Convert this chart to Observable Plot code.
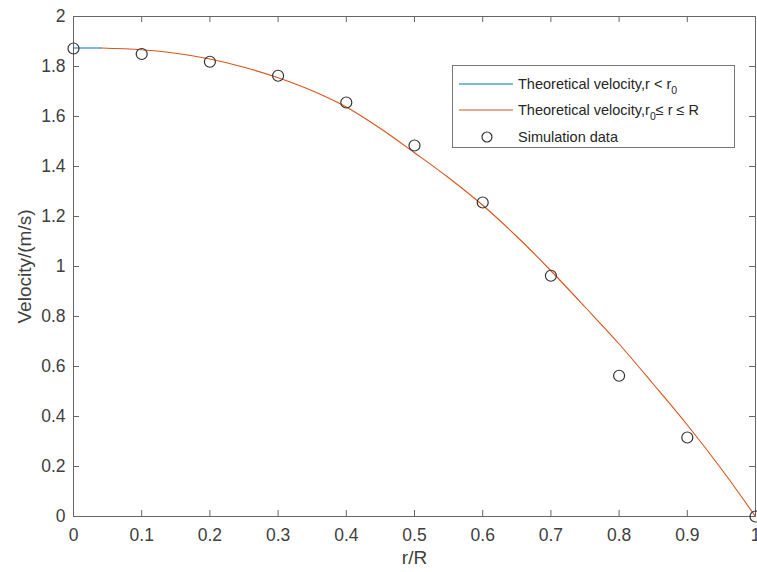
<!DOCTYPE html>
<html><head><meta charset="utf-8">
<script src="https://cdn.jsdelivr.net/npm/d3@7"></script>
<script src="https://cdn.jsdelivr.net/npm/@observablehq/plot@0.6"></script>
<style>
body{margin:0;background:#fff;font-family:"Liberation Sans",Arial,sans-serif;}
#wrap{position:relative;width:757px;height:572px;}
#legend{position:absolute;left:452px;top:65px;width:281px;height:81px;border:1px solid #777;background:#fff;font-size:14.5px;color:#262626;}
.row{position:absolute;left:0;width:281px;height:20px;}
.sw{position:absolute;left:0;top:0;}
.lab{position:absolute;left:65px;top:1px;white-space:nowrap;line-height:18px;}
.lab sub{font-size:10.5px;vertical-align:-5px;line-height:0;}
</style></head>
<body><div id="wrap"></div>
<script>
// Simulation data
const simX = [0, 0.1, 0.2, 0.3, 0.4, 0.5, 0.6, 0.7, 0.8, 0.9, 1.0];
const simV = [1.872, 1.850, 1.819, 1.763, 1.656, 1.484, 1.256, 0.963, 0.563, 0.316, 0];
// Theoretical velocity, plug region r < r0
const plugX = [0, 0.04];
const plugV = [1.874, 1.874];
// Theoretical velocity, r0 <= r <= R
const curveX = [0.04, 0.1, 0.15, 0.2, 0.25, 0.3, 0.35, 0.4, 0.45, 0.5, 0.55, 0.6, 0.65, 0.7, 0.75, 0.8, 0.85, 0.9, 0.95, 1.0];
const curveV = [1.874, 1.867, 1.853, 1.830, 1.797, 1.755, 1.703, 1.638, 1.552, 1.455, 1.355, 1.245, 1.120, 0.983, 0.838, 0.690, 0.530, 0.366, 0.190, 0.000];
// Ticks
const xTicks = [0, 0.1, 0.2, 0.3, 0.4, 0.5, 0.6, 0.7, 0.8, 0.9, 1];
const yTicks = [0, 0.2, 0.4, 0.6, 0.8, 1, 1.2, 1.4, 1.6, 1.8, 2];
const xLabel = "r/R";
const yLabel = "Velocity/(m/s)";
const legendLabels = ["Theoretical velocity,r &lt; r<sub>0</sub>", "Theoretical velocity,r<sub>0</sub>\u2264 r \u2264 R", "Simulation data"];

const blue = "#0072BD", orange = "#D95319", axisC = "#666", textC = "#404040";
const W = 757, H = 572, mL = 73, mR = 2, mT = 16, mB = 56;
const pw = W - mL - mR, ph = H - mT - mB, tk = 6;

const sim = simX.map((x, i) => ({x, v: simV[i]}));
const plug = plugX.map((x, i) => ({x, v: plugV[i]}));
const curve = curveX.map((x, i) => ({x, v: curveV[i]}));

const chart = Plot.plot({
  width: W, height: H,
  marginLeft: mL, marginRight: mR, marginTop: mT, marginBottom: mB,
  x: {domain: [0, 1]},
  y: {domain: [0, 2]},
  style: {fontFamily: '"Liberation Sans", Arial, sans-serif', fontSize: "17.5px", color: textC, background: "#fff"},
  marks: [
    Plot.frame({stroke: axisC}),
    Plot.ruleX(xTicks, {x: d => d, insetTop: ph - tk, stroke: axisC}),
    Plot.ruleX(xTicks, {x: d => d, insetBottom: ph - tk, stroke: axisC}),
    Plot.ruleY(yTicks, {y: d => d, insetRight: pw - tk, stroke: axisC}),
    Plot.ruleY(yTicks, {y: d => d, insetLeft: pw - tk, stroke: axisC}),
    Plot.axisX({ticks: xTicks, tickSize: 0, tickPadding: 12, tickFormat: d => String(d), label: null, fill: textC}),
    Plot.axisY({ticks: yTicks, tickSize: 0, tickPadding: 8, tickFormat: d => String(d), label: null, fill: textC}),
    Plot.text([xLabel], {frameAnchor: "bottom", dy: 41, lineAnchor: "middle", fontSize: 19, fill: textC}),
    Plot.text([yLabel], {frameAnchor: "left", dx: -49, rotate: -90, textAnchor: "middle", lineAnchor: "middle", fontSize: 19, fill: textC}),
    Plot.line(curve, {x: "x", y: "v", stroke: orange, strokeWidth: 1.1, curve: "monotone-x"}),
    Plot.line(plug, {x: "x", y: "v", stroke: blue, strokeWidth: 1.1}),
    Plot.dot(sim, {x: "x", y: "v", r: 5.5, stroke: "#333", strokeWidth: 1.2, fill: "none"})
  ]
});
const wrap = document.getElementById("wrap");
wrap.appendChild(chart);

// Legend
const leg = document.createElement("div");
leg.id = "legend";
const swatches = [
  `<svg class="sw" width="60" height="20"><line x1="6" x2="60" y1="10" y2="10" stroke="${blue}" stroke-width="1.2"/></svg>`,
  `<svg class="sw" width="60" height="20"><line x1="6" x2="60" y1="10" y2="10" stroke="${orange}" stroke-width="1.2"/></svg>`,
  `<svg class="sw" width="60" height="20"><circle cx="34" cy="10" r="5" fill="none" stroke="#333" stroke-width="1.2"/></svg>`
];
const rowTops = [8, 34, 61];
legendLabels.forEach((t, i) => {
  const r = document.createElement("div");
  r.className = "row";
  r.style.top = rowTops[i] + "px";
  r.innerHTML = swatches[i] + `<span class="lab">${t}</span>`;
  leg.appendChild(r);
});
wrap.appendChild(leg);
</script>
</body></html>
